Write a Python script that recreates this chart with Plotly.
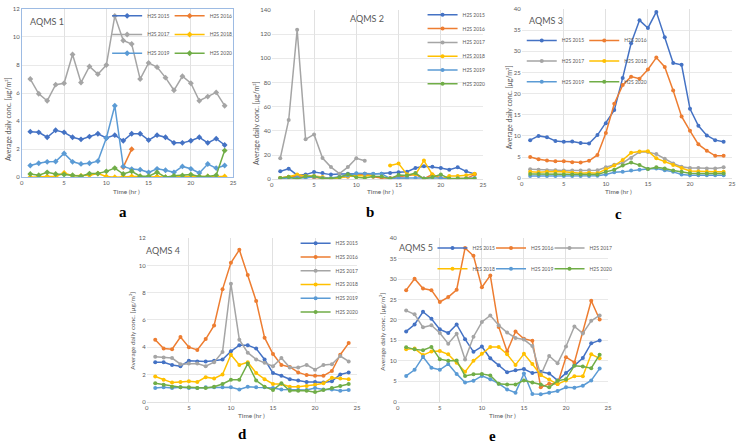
import plotly.graph_objects as go

W, H = 741, 446
FONT = "Lato"

hours = list(range(1, 25))
series_names = ["H2S 2015", "H2S 2016", "H2S 2017", "H2S 2018", "H2S 2019", "H2S 2020"]
colors = ["#4472C4", "#ED7D31", "#A5A5A5", "#FFC000", "#5B9BD5", "#70AD47"]
x_ticks = [0, 5, 10, 15, 20, 25]

# ---- AQMS 1 ----
a_2015 = [3.25, 3.2, 2.85, 3.35, 3.2, 2.85, 2.7, 2.9, 3.1, 2.8, 3.0, 2.6, 3.1, 3.1, 2.65, 3.0, 2.85, 2.45, 2.45, 2.6, 2.85, 2.45, 2.75, 2.3]
a_2016 = [None] * 11 + [0.72, 2.0] + [None] * 11
a_2017 = [7.0, 5.95, 5.45, 6.6, 6.7, 8.75, 6.75, 7.9, 7.35, 8.0, 11.5, 9.75, 9.5, 7.0, 8.15, 7.85, 7.1, 6.2, 7.2, 6.7, 5.45, 5.75, 6.05, 5.1]
a_2018 = [0.0, 0.05, 0.05, 0.05, 0.3, 0.1, 0.1, 0.15, 0.26, 0.05, 0.0, 0.05, 0.05, 0.05, 0.0, 0.05, 0.0, 0.05, 0.05, 0.05, 0.0, 0.05, 0.05, 0.05]
a_2019 = [0.84, 1.0, 1.1, 1.12, 1.7, 1.1, 0.95, 1.0, 1.15, 2.8, 5.1, 0.77, 0.58, 0.54, 0.35, 0.6, 0.5, 0.35, 0.77, 0.6, 0.3, 0.94, 0.65, 0.84]
a_2020 = [0.23, 0.14, 0.35, 0.23, 0.19, 0.14, 0.07, 0.26, 0.26, 0.42, 0.65, 0.23, 0.42, 0.07, 0.07, 0.35, 0.0, 0.1, 0.12, 0.19, 0.05, 0.05, 0.14, 1.9]

# ---- AQMS 2 ----
b_2015 = [6.5, 8.7, 3.3, 3.8, 6, 5.1, 3.8, 4.3, 4.6, 4.6, 4.6, 4.3, 4.6, 5.1, 5.7, 6.2, 9.2, 10.8, 10.3, 9.2, 7.9, 9.8, 6.5, 4.3]
b_2016 = [1, 2, 2, 2, 1.5, 1, 0.5, 1.5, 2, 3, 4.6, 2, 1, 1, 2, 3, 3.8, 0.5, 3.8, 1, 0, 0.5, 0.5, 3.8]
b_2017 = [17.3, 49, 123.5, 33, 37, 17.5, 10, 4.6, 10, 17.3, 15.2, None, None, None, 1.0, 0.5] + [None] * 8
b_2018 = [1, 2, 3.8, 2.7, 2.7, 1.9, 0.3, 1, 2.4, 3, 2.7, 3.3, None, 11.4, 13, 4, 3.8, 15.4, 3.8, 0, 2.7, 2.7, 3.3, 4.6]
b_2019 = [0.5, 1, 1.5, 1, 2, 1, 1, 2, 3, 5, 4.6, 4.6, 4.6, 0.5, 1, 1, 1, 0.5, 1, 1, 0, 0.5, 0.5, 1]
b_2020 = [1, 1.9, 0, 2.4, 2.4, 0.5, 0.5, 1.6, 4, 1.6, 1, 2.2, 2.2, 0.5, 3.5, 3, 5.1, 0.3, 1.9, 3.8, 0.5, 0.5, 0.5, 0.5]

# ---- AQMS 3 ----
c_2015 = [9, 10, 9.7, 8.8, 8.6, 8.7, 8.3, 8.2, 10.2, 13, 16.1, 23.7, 31.9, 37.3, 35.5, 39.3, 33.3, 27.2, 26.8, 16.4, 12.4, 10.1, 9, 8.6]
c_2016 = [5, 4.5, 4.2, 4, 4, 3.8, 3.7, 4.1, 5.5, 10.7, 17.6, 22, 24, 23.5, 25.7, 28.5, 26.3, 20.7, 14.6, 11.2, 8, 6.5, 5.3, 5.3]
c_2017 = [2.1, 2.0, 1.9, 1.9, 1.8, 1.8, 1.8, 1.9, 1.9, 2.6, 3.2, 3.6, 4.8, 6.2, 6.2, 5.7, 4.6, 3.5, 2.7, 2.4, 2.4, 2.3, 2.3, 2.6]
c_2018 = [1.5, 1.4, 1.5, 1.6, 1.5, 1.3, 1.2, 1.3, 1.2, 2.1, 3.0, 4.3, 6.0, 6.3, 6.4, 4.7, 3.9, 3.1, 2.4, 1.7, 1.6, 1.5, 1.5, 1.5]
c_2019 = [0.5, 0.5, 0.5, 0.5, 0.5, 0.5, 0.5, 0.5, 0.6, 0.9, 1.4, 1.5, 1.8, 2.0, 2.2, 2.3, 1.9, 1.5, 0.9, 0.7, 0.7, 0.7, 0.7, 0.7]
c_2020 = [1.0, 1.0, 1.0, 1.0, 0.9, 0.9, 0.9, 0.9, 0.9, 1.5, 2.0, 3.0, 3.7, 3.1, 2.2, 2.6, 2.3, 1.8, 1.5, 1.2, 1.1, 1.1, 1.1, 1.1]

# ---- AQMS 4 ----
d_2015 = [2.9, 2.9, 2.7, 2.6, 3.0, 2.95, 2.95, 3.0, 3.1, 3.7, 4.15, 4.15, 3.9, 3.1, 2.1, 1.9, 1.65, 1.55, 1.45, 1.45, 1.4, 1.5, 2.0, 2.15]
d_2016 = [4.55, 3.9, 3.85, 4.75, 4.0, 3.8, 4.6, 5.6, 8.25, 10.2, 11.15, 9.3, 7.4, 4.7, 3.5, 2.7, 2.55, 2.15, 1.95, 1.9, 1.9, 2.25, 3.45, 4.3]
d_2017 = [3.3, 3.25, 3.2, 2.75, 2.8, 2.8, 2.6, 2.9, 3.65, 8.65, 4.55, 3.6, 3.1, 2.85, 2.6, 3.2, 2.5, 2.5, 2.7, 2.35, 2.7, 2.75, 3.35, 2.95]
d_2018 = [1.85, 1.6, 1.4, 1.45, 1.5, 1.45, 1.8, 1.7, 2.0, 3.45, 2.7, 2.9, 2.1, 1.65, 1.3, 1.3, 1.1, 1.1, 1.15, 1.25, 1.35, 1.75, 1.7, 1.65]
d_2019 = [1.0, 1.05, 1.0, 1.05, 1.0, 1.0, 1.05, 1.05, 1.05, 1.05, 0.9, 1.1, 1.05, 1.05, 1.0, 0.9, 0.9, 0.85, 0.85, 1.0, 0.9, 0.9, 0.8, 0.85]
d_2020 = [1.35, 1.25, 1.1, 1.05, 1.05, 1.0, 1.0, 1.1, 1.3, 1.6, 1.6, 2.8, 1.55, 1.1, 0.85, 1.35, 0.8, 0.8, 0.8, 0.7, 0.85, 1.0, 1.15, 1.3]

# ---- AQMS 5 ----
e_2015 = [17.2, 18.9, 22, 20.3, 17.7, 16.8, 18.9, 15.3, 12.2, 13.5, 10.6, 8.9, 7.2, 7.7, 8.0, 7.0, 7.3, 6.9, 5.2, 7.0, 8.9, 10.7, 14.3, 15]
e_2016 = [27.3, 30.1, 27.7, 27.3, 24.4, 25.6, 27.4, 37.6, 35.7, 28.0, 30.9, 18.3, 12.3, 17.2, 15.4, 14.9, 3.5, 4.4, 4.3, 10.9, 9.6, 16.9, 24.7, 20.1]
e_2017 = [22.3, 21.4, 18.2, 18.7, 16.8, 14.2, 16.6, 10.3, 15.9, 19.5, 21.1, 18.7, 16.9, 15.6, 15.2, 13.6, 6.5, 11.2, 9.4, 13.5, 18.4, 16.7, 19.8, 21.1]
e_2018 = [12.8, 13.0, 11.4, 12.3, 12.4, 11.6, 9.5, 7.3, 10.0, 11.7, 13.4, 13.4, 11.6, 9.0, 11.7, 9.2, 6.5, 5.4, 4.3, 5.2, 6.2, 6.2, 11.6, 10.6]
e_2019 = [6.3, 7.8, 11.0, 8.3, 7.8, 9.2, 6.8, 4.7, 5.1, 6.3, 5.5, 4.4, 3.0, 2.2, 6.9, 1.9, 1.8, 2.2, 2.6, 3.5, 3.4, 3.9, 5.2, 8.1]
e_2020 = [13.3, 12.8, 12.6, 13.4, 10.4, 10.0, 10.1, 6.3, 6.7, 6.8, 6.4, 4.4, 4.2, 4.2, 5.2, 4.7, 4.2, 3.5, 5.1, 5.5, 8.8, 8.6, 8.2, 11.5]

station_titles = ["AQMS 1", "AQMS 2", "AQMS 3", "AQMS 4", "AQMS 5"]
panel_letters = ["a", "b", "c", "d", "e"]
y_ranges = [[0, 12], [0, 140], [0, 40], [0, 12], [0, 40]]
y_dticks = [2, 20, 5, 2, 5]
y_title = "Average daily conc. [μg/m³]"
x_title = "Time (hr )"

panel_series = [
    [a_2015, a_2016, a_2017, a_2018, a_2019, a_2020],
    [b_2015, b_2016, b_2017, b_2018, b_2019, b_2020],
    [c_2015, c_2016, c_2017, c_2018, c_2019, c_2020],
    [d_2015, d_2016, d_2017, d_2018, d_2019, d_2020],
    [e_2015, e_2016, e_2017, e_2018, e_2019, e_2020],
]

# ---- layout geometry (pixels) ----
plot_px = [  # left, right, top, bottom
    (20, 233, 5, 176),
    (272, 485, 6, 178),
    (524, 736, 5, 177),
    (146, 358, 238, 404),
    (399, 611, 238, 404),
]
# legend entry positions (item left x, center y) in px
leg_px = [
    [(106, 12), (169, 12), (106, 31), (169, 31), (106, 50), (169, 50)],
    [(424, 11), (424, 25), (424, 39), (424, 53), (424, 67), (424, 81)],
    [(524, 37), (587, 37), (524, 58), (587, 58), (524, 79), (587, 79)],
    [(296, 243), (296, 257), (296, 271), (296, 285), (296, 299), (296, 313)],
    [(434, 248), (493, 248), (552, 248), (434, 269), (493, 269), (552, 269)],
]
station_title_px = [(45, 18), (368, 15), (548, 17), (162, 250), (417, 247)]
ytitle_px = [(6, 117), (256, 121), (511, 105), (132, 332), (384, 333)]
xtitle_px = [(126, 190), (382, 190), (622, 190), (252, 418), (505, 418)]
letter_px = [(122, 211), (371, 211), (622, 213), (242, 437), (494, 439)]

fig = go.Figure()
layout = dict(
    width=W, height=H, margin=dict(l=0, r=0, t=0, b=0),
    paper_bgcolor="white", plot_bgcolor="white",
    font=dict(family=FONT, color="#595959", size=6),
    annotations=[], showlegend=True,
)

leg_count = 1
for p in range(5):
    xa = "x" if p == 0 else f"x{p+1}"
    ya = "y" if p == 0 else f"y{p+1}"
    for s in range(6):
        leg_count += 1
        lname = f"legend{leg_count}"
        fig.add_trace(go.Scatter(
            x=hours, y=panel_series[p][s], name=series_names[s],
            mode="lines+markers", xaxis=xa, yaxis=ya, legend=lname,
            line=dict(color=colors[s], width=1.5),
            marker=dict(color=colors[s], size=4.5 if p == 0 else 4,
                        symbol="diamond" if p == 0 else "circle"),
            connectgaps=False,
        ))
        lx, ly = leg_px[p][s]
        layout[lname] = dict(
            x=lx / W, y=1 - ly / H, xanchor="left", yanchor="middle",
            bgcolor="rgba(0,0,0,0)", borderwidth=0, itemwidth=30,
            font=dict(family=FONT, size=5, color="#595959"),
        )
    l, r, t, b = plot_px[p]
    xkey = "xaxis" if p == 0 else f"xaxis{p+1}"
    ykey = "yaxis" if p == 0 else f"yaxis{p+1}"
    border = p == 0
    layout[xkey] = dict(
        domain=[l / W, r / W], anchor=ya, range=[0, 25], tickvals=x_ticks,
        showgrid=True, gridcolor="#d9d9d9", gridwidth=0.8, zeroline=False,
        showline=True, linecolor="#9dbbe3" if border else "#d9d9d9",
        mirror=border, linewidth=1 if border else 0.8,
        ticks="", tickfont=dict(size=6, color="#595959"),
    )
    layout[ykey] = dict(
        domain=[1 - b / H, 1 - t / H], anchor=xa, range=y_ranges[p],
        dtick=y_dticks[p], showgrid=True, gridcolor="#e4e4e4", gridwidth=0.8,
        zeroline=False, showline=border, linecolor="#9dbbe3", mirror=border,
        ticks="", tickfont=dict(size=6, color="#595959"),
    )
    sx, sy = station_title_px[p]
    layout["annotations"].append(dict(
        x=sx / W, y=1 - sy / H, xref="paper", yref="paper", text=station_titles[p],
        xanchor="center", yanchor="middle", showarrow=False,
        font=dict(family=FONT, size=9, color="#595959"),
    ))
    tx, ty = ytitle_px[p]
    layout["annotations"].append(dict(
        x=tx / W, y=1 - ty / H, xref="paper", yref="paper", text=y_title,
        xanchor="center", yanchor="middle", textangle=-90, showarrow=False,
        font=dict(family=FONT, size=7 if p < 3 else 6.5, color="#595959"),
    ))
    xx, xy = xtitle_px[p]
    layout["annotations"].append(dict(
        x=xx / W, y=1 - xy / H, xref="paper", yref="paper", text=x_title,
        xanchor="center", yanchor="middle", showarrow=False,
        font=dict(family=FONT, size=6.5, color="#595959"),
    ))
    px_, py_ = letter_px[p]
    layout["annotations"].append(dict(
        x=px_ / W, y=1 - py_ / H, xref="paper", yref="paper",
        text=f"<b>{panel_letters[p]}</b>", xanchor="center", yanchor="middle",
        showarrow=False, font=dict(family="Liberation Serif", size=15, color="#000000"),
    ))

fig.update_layout(**layout)
fig.write_html("out.html", config={"displayModeBar": False, "staticPlot": True},
               post_script="document.body.style.margin='0';")
